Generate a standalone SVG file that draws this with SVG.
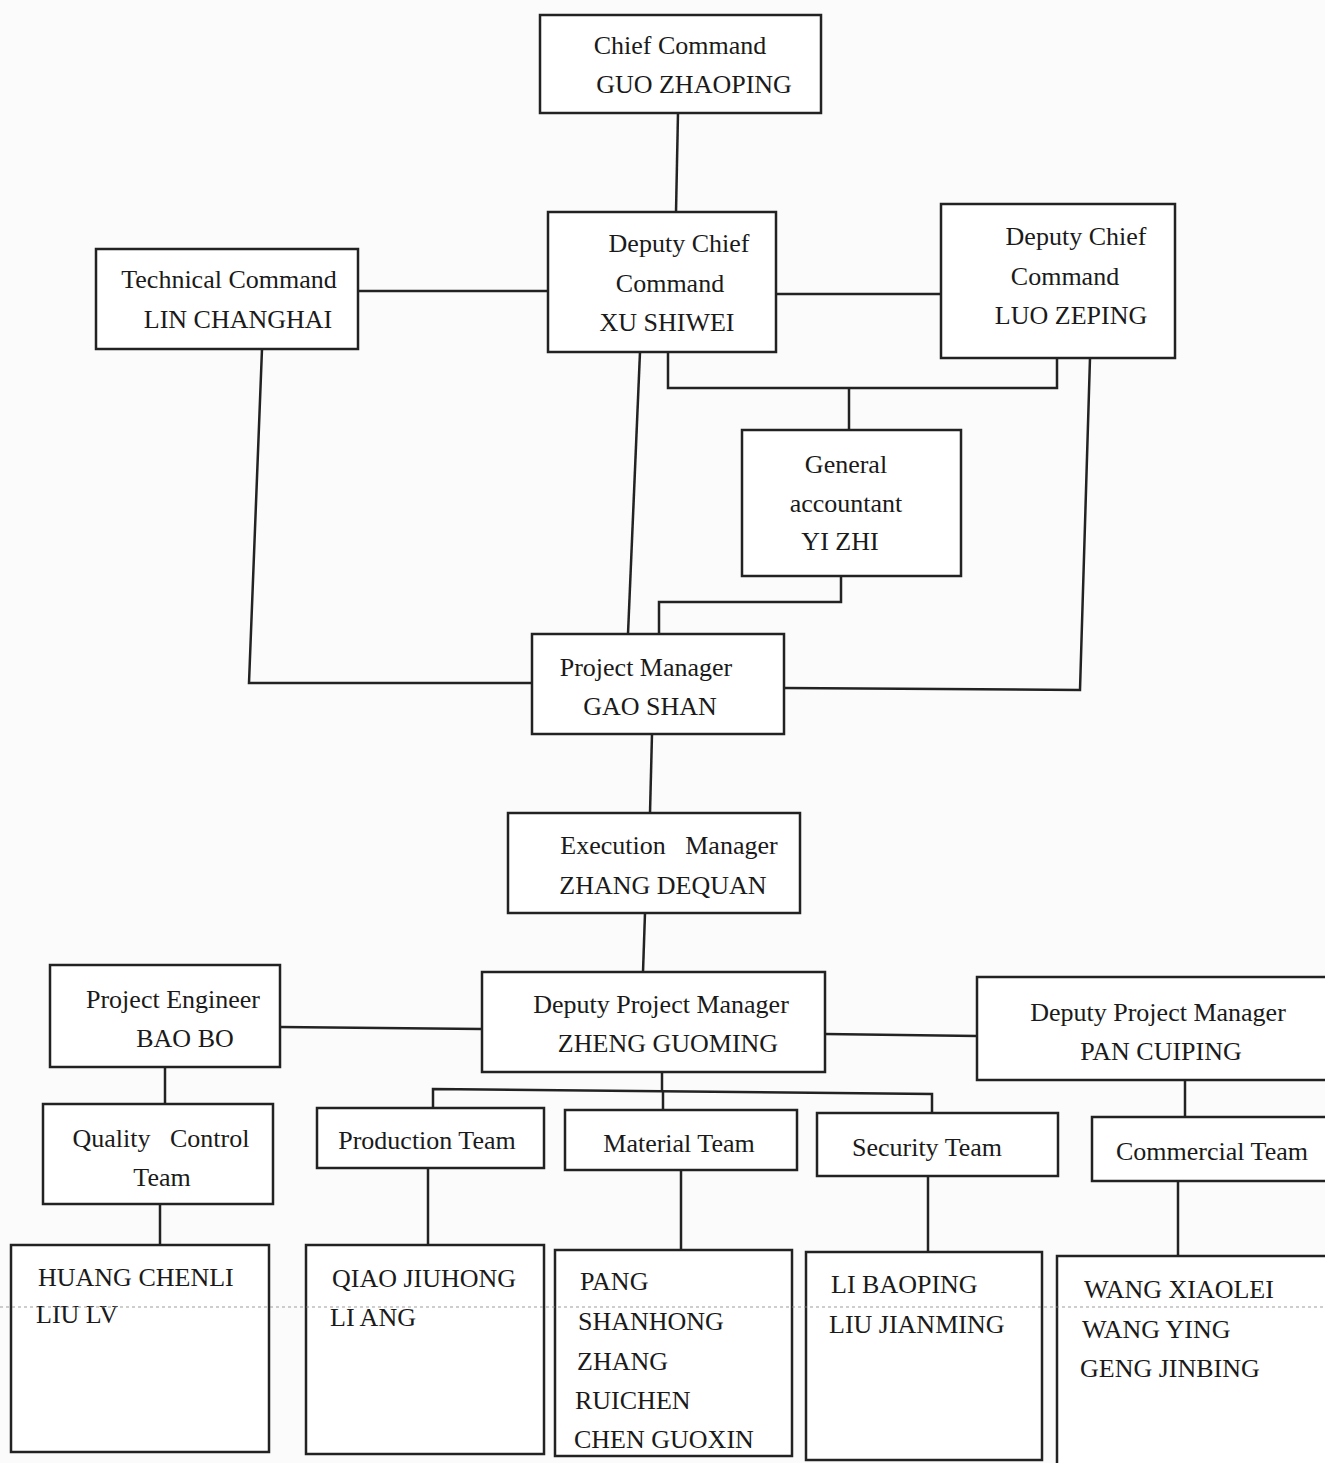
<svg xmlns="http://www.w3.org/2000/svg" width="1325" height="1463" viewBox="0 0 1325 1463" font-family="Liberation Serif, DejaVu Serif, serif">
<style>
.b{fill:#fff;stroke:#222;stroke-width:2.5}
.t{font-family:'Liberation Serif','DejaVu Serif',serif;font-size:26px;fill:#1a1a1a;text-anchor:middle}
.l{text-anchor:start}
#connectors path{fill:none;stroke:#222;stroke-width:2.5}
</style>
<rect width="1325" height="1463" fill="#fbfbfb"/>
<g id="connectors">
<path d="M678 113 L676 212"/>
<path d="M358 291 L548 291"/>
<path d="M776 294 L941 294"/>
<path d="M668 352 L668 388 L1057 388 L1057 358"/>
<path d="M849 388 L849 430"/>
<path d="M841 576 L841 602 L659 602 L659 634"/>
<path d="M640 352 L628 634"/>
<path d="M1090 358 L1080 690 L784 688"/>
<path d="M262 349 L249 683 L532 683"/>
<path d="M652 734 L650 813"/>
<path d="M645 913 L643 972"/>
<path d="M280 1027 L482 1029"/>
<path d="M825 1034 L977 1036"/>
<path d="M165 1067 L165 1104"/>
<path d="M662 1072 L662 1090"/>
<path d="M433 1108 L433 1089 L932 1094 L932 1113"/>
<path d="M663 1090 L663 1110"/>
<path d="M1185 1080 L1185 1117"/>
<path d="M160 1204 L160 1245"/>
<path d="M428 1168 L428 1245"/>
<path d="M681 1170 L681 1250"/>
<path d="M928 1176 L928 1252"/>
<path d="M1178 1181 L1178 1256"/>
</g>
<g id="chief"><rect class="b" x="540" y="15" width="281" height="98"/><text class="t" x="680" y="54">Chief Command</text><text class="t" x="694" y="93">GUO ZHAOPING</text></g>
<g id="xu"><rect class="b" x="548" y="212" width="228" height="140"/><text class="t" x="679" y="252">Deputy Chief</text><text class="t" x="670" y="292">Command</text><text class="t" x="667" y="331">XU SHIWEI</text></g>
<g id="tech"><rect class="b" x="96" y="249" width="262" height="100"/><text class="t" x="229" y="288">Technical Command</text><text class="t" x="238" y="328">LIN CHANGHAI</text></g>
<g id="luo"><rect class="b" x="941" y="204" width="234" height="154"/><text class="t" x="1076" y="245">Deputy Chief</text><text class="t" x="1065" y="285">Command</text><text class="t" x="1071" y="324">LUO ZEPING</text></g>
<g id="accountant"><rect class="b" x="742" y="430" width="219" height="146"/><text class="t" x="846" y="473">General</text><text class="t" x="846" y="512">accountant</text><text class="t" x="840" y="550">YI ZHI</text></g>
<g id="pm"><rect class="b" x="532" y="634" width="252" height="100"/><text class="t" x="646" y="676">Project Manager</text><text class="t" x="650" y="715">GAO SHAN</text></g>
<g id="exec"><rect class="b" x="508" y="813" width="292" height="100"/><text class="t" x="669" y="854" xml:space="preserve">Execution   Manager</text><text class="t" x="663" y="894">ZHANG DEQUAN</text></g>
<g id="engineer"><rect class="b" x="50" y="965" width="230" height="102"/><text class="t" x="173" y="1008">Project Engineer</text><text class="t" x="185" y="1047">BAO BO</text></g>
<g id="dpm1"><rect class="b" x="482" y="972" width="343" height="100"/><text class="t" x="661" y="1013">Deputy Project Manager</text><text class="t" x="668" y="1052">ZHENG GUOMING</text></g>
<g id="dpm2"><rect class="b" x="977" y="977" width="360" height="103"/><text class="t" x="1158" y="1021">Deputy Project Manager</text><text class="t" x="1161" y="1060">PAN CUIPING</text></g>
<g id="qc"><rect class="b" x="43" y="1104" width="230" height="100"/><text class="t" x="161" y="1147" xml:space="preserve">Quality   Control</text><text class="t" x="162" y="1186">Team</text></g>
<g id="production"><rect class="b" x="317" y="1108" width="227" height="60"/><text class="t" x="427" y="1149">Production Team</text></g>
<g id="material"><rect class="b" x="565" y="1110" width="232" height="60"/><text class="t" x="679" y="1152">Material Team</text></g>
<g id="security"><rect class="b" x="817" y="1113" width="241" height="63"/><text class="t" x="927" y="1156">Security Team</text></g>
<g id="commercial"><rect class="b" x="1092" y="1117" width="245" height="64"/><text class="t" x="1212" y="1160">Commercial Team</text></g>
<g id="qc-members"><rect class="b" x="11" y="1245" width="258" height="207"/><text class="t l" x="38" y="1286">HUANG CHENLI</text><text class="t l" x="36" y="1323">LIU LV</text></g>
<g id="prod-members"><rect class="b" x="306" y="1245" width="238" height="209"/><text class="t l" x="332" y="1287">QIAO JIUHONG</text><text class="t l" x="330" y="1326">LI ANG</text></g>
<g id="mat-members"><rect class="b" x="555" y="1250" width="237" height="206"/><text class="t l" x="580" y="1290">PANG</text><text class="t l" x="578" y="1330">SHANHONG</text><text class="t l" x="577" y="1370">ZHANG</text><text class="t l" x="575" y="1409">RUICHEN</text><text class="t l" x="574" y="1448">CHEN GUOXIN</text></g>
<g id="sec-members"><rect class="b" x="806" y="1252" width="236" height="208"/><text class="t l" x="831" y="1293">LI BAOPING</text><text class="t l" x="829" y="1333">LIU JIANMING</text></g>
<g id="com-members"><rect class="b" x="1057" y="1256" width="280" height="210"/><text class="t l" x="1084" y="1298">WANG XIAOLEI</text><text class="t l" x="1082" y="1338">WANG YING</text><text class="t l" x="1080" y="1377">GENG JINBING</text></g>
<line x1="0" y1="1307" x2="1325" y2="1307" stroke="#888" stroke-width="1.2" stroke-dasharray="3 3" opacity="0.8"/>
</svg>
